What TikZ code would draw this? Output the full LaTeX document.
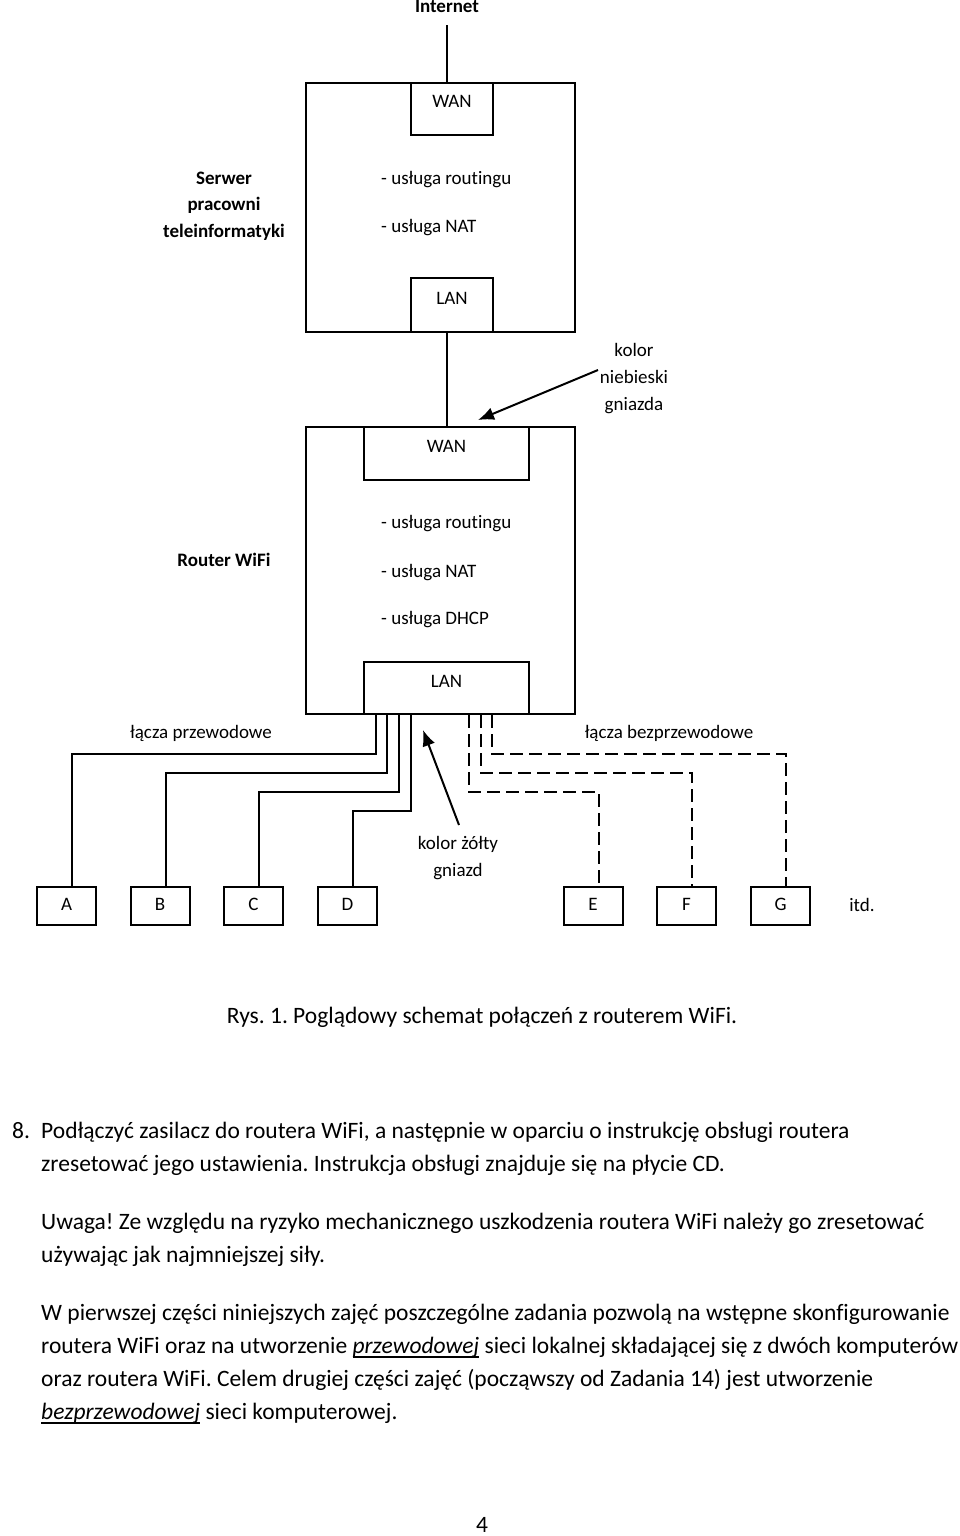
\documentclass[tikz,border=0pt]{standalone}
\usepackage{fontspec}
\setmainfont{Carlito}[Ligatures={NoCommon}]
\usetikzlibrary{arrows.meta,calc}
\newcommand{\myul}[1]{\setbox0\hbox{#1}\rlap{\rule[-4.5pt]{\wd0}{1.2pt}}\box0\relax}
\frenchspacing
\begin{document}
\begin{tikzpicture}[x=1pt,y=-1pt,
  ln/.style={line width=2pt},
  dsh/.style={line width=2pt,dash pattern=on 13pt off 6pt},
  arr/.style={line width=2pt,-{Latex[length=16pt,width=13pt]}},
  box/.style={draw,line width=2pt,rectangle,inner sep=0pt},
  dg/.style={font=\fontsize{19}{27}\selectfont,inner sep=0pt,text height=12pt,text depth=4pt},
  dgb/.style={font=\fontsize{19}{27}\selectfont\bfseries,inner sep=0pt,text height=12pt,text depth=4pt},
  bt/.style={font=\fontsize{23.5}{33}\selectfont,anchor=base west,inner sep=0pt},
  term/.style={box,dg,minimum width=59pt,minimum height=38pt}]
\useasboundingbox[fill=white] (0,0) rectangle (960,1536);

% server
\node[dgb] (inet) at (447,9) {Internet};
\node[box,minimum width=269pt,minimum height=249pt] (srv) at (440.5,207.5) {};
\node[box,minimum width=82pt,minimum height=52pt,label={[dg,yshift=5pt]center:WAN}] (wan1) at (452,109) {};
\node[box,minimum width=82pt,minimum height=54pt,label={[dg,yshift=5pt]center:LAN}] (lan1) at (452,305) {};
\draw[ln] ([yshift=-8pt]inet.south) -- (inet.south |- srv.north);
\node[dgb] (s1) at (224,180) {Serwer};
\node[dgb] (s2) at (224,206) {pracowni};
\node[dgb] (s3) at (224,233) {teleinformatyki};
\node[dg,anchor=west] (r1) at (381,180) {- usługa routingu};
\node[dg,anchor=west] (r2) at (381,228) {- usługa NAT};

% blue label
\node[dg] (k1) at (634,352) {kolor};
\node[dg] (k2) at (634,379) {niebieski};
\node[dg] (k3) at (634,406) {gniazda};
\coordinate (bt) at (598,370);
\coordinate (bh) at (478,420);
\draw[arr] (bt) -- (bh);

% router
\node[box,minimum width=269pt,minimum height=287pt] (rtr) at (440.5,570.5) {};
\node[box,minimum width=165pt,minimum height=53pt,label={[dg,yshift=5pt]center:WAN}] (wan2) at (446.5,453.5) {};
\node[box,minimum width=165pt,minimum height=52pt,label={[dg,yshift=5pt]center:LAN}] (lan2) at (446.5,688) {};
\draw[ln] (wan2.north |- lan1.south) -- (wan2.north);
\node[dgb] (rw) at (224,562) {Router WiFi};
\node[dg,anchor=west] (q1) at (381,524) {- usługa routingu};
\node[dg,anchor=west] (q2) at (381,573) {- usługa NAT};
\node[dg,anchor=west] (q3) at (381,620) {- usługa DHCP};

% links labels
\node[dg] (lp) at (201,734) {łącza przewodowe};
\node[dg] (lb) at (669,734) {łącza bezprzewodowe};
\node[dg] (y1) at (458,845) {kolor żółty};
\node[dg] (y2) at (458,872) {gniazd};
\coordinate (yt) at (459,825);
\coordinate (yh) at (423,730);
\draw[arr] (yt) -- (yh);

% terminals
\node[term] (A) at (66.5,906) {A};
\node[term] (B) at (160,906) {B};
\node[term] (C) at (253.5,906) {C};
\node[term] (D) at (347.5,906) {D};
\node[term] (E) at (593,906) {E};
\node[term] (F) at (686.5,906) {F};
\node[term] (G) at (780.5,906) {G};
\node[dg] (itd) at (862,907) {itd.};

\draw[ln] ([xshift=13pt]lan2.south west) -- ++(0,39) -| ([xshift=5.5pt]A.north);
\draw[ln] ([xshift=24pt]lan2.south west) -- ++(0,58) -| ([xshift=6pt]B.north);
\draw[ln] ([xshift=36pt]lan2.south west) -- ++(0,77) -| ([xshift=5.5pt]C.north);
\draw[ln] ([xshift=48pt]lan2.south west) -- ++(0,96) -| ([xshift=5.5pt]D.north);
\draw[dsh] ([xshift=106pt]lan2.south west) -- ++(0,77) -| ([xshift=6pt]E.north);
\draw[dsh] ([xshift=118pt]lan2.south west) -- ++(0,58) -| ([xshift=5.5pt]F.north);
\draw[dsh] ([xshift=129pt]lan2.south west) -- ++(0,39) -| ([xshift=5.5pt]G.north);

% caption and text
\node[bt,anchor=base] (cap) at (482,1023) {Rys. 1. Poglądowy schemat połączeń z routerem WiFi.};
\node[bt] (n8) at (12,1138) {8.};
\node[bt] (t1) at (41,1138) {Podłączyć zasilacz do routera WiFi, a następnie w oparciu o instrukcję obsługi routera};
\node[bt] (t2) at (41,1171) {zresetować jego ustawienia. Instrukcja obsługi znajduje się na płycie CD.};
\node[bt] (t3) at (41,1229) {Uwaga! Ze względu na ryzyko mechanicznego uszkodzenia routera WiFi należy go zresetować};
\node[bt] (t4) at (41,1262) {używając jak najmniejszej siły.};
\node[bt] (t5) at (41,1320) {W pierwszej części niniejszych zajęć poszczególne zadania pozwolą na wstępne skonfigurowanie};
\node[bt] (t6) at (41,1353) {routera WiFi oraz na utworzenie \myul{\textit{przewodowej}} sieci lokalnej składającej się z dwóch komputerów};
\node[bt] (t7) at (41,1386) {oraz routera WiFi. Celem drugiej części zajęć (począwszy od Zadania 14) jest utworzenie};
\node[bt] (t8) at (41,1419) {\myul{\textit{bezprzewodowej}} sieci komputerowej.};
\node[bt,anchor=base] (pg) at (482,1532) {4};
\end{tikzpicture}
\end{document}
